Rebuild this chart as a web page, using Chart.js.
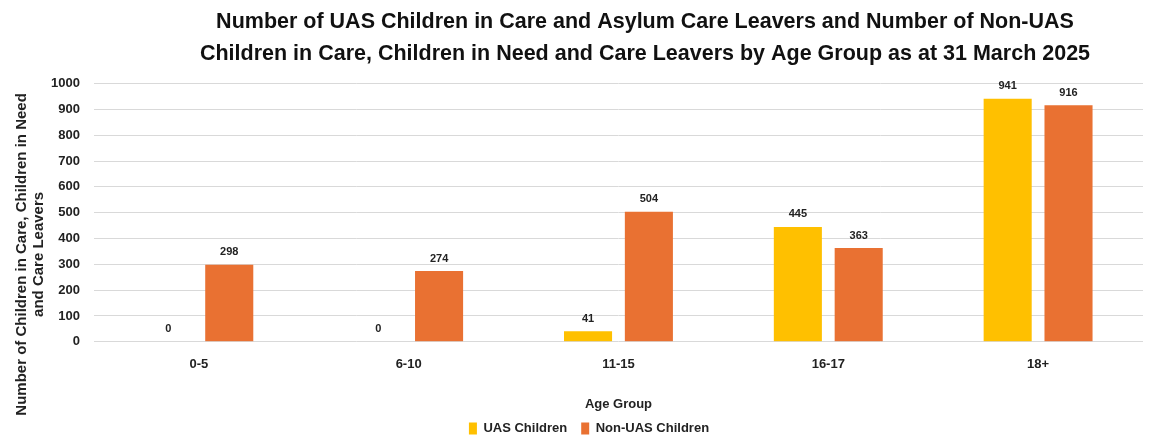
<!DOCTYPE html>
<html>
<head>
<meta charset="utf-8">
<script src="https://cdn.jsdelivr.net/npm/chart.js@4/dist/chart.umd.min.js"></script>
<style>
  html, body { margin: 0; padding: 0; background: #fff; }
  #wrap { width: 1161px; height: 436px; position: relative; }
</style>
</head>
<body>
<div id="wrap"><canvas id="chart"></canvas></div>
<script>
// Chart data
const ageGroups = ['0-5', '6-10', '11-15', '16-17', '18+']
const uasChildren = [0, 0, 41, 445, 941]
const nonUasChildren = [298, 274, 504, 363, 916]
const yTicks = [0, 100, 200, 300, 400, 500, 600, 700, 800, 900, 1000]

const FONT = '"Liberation Sans", Arial, sans-serif'
// trailing spaces push the rotated axis title down a bit, like the original
const yTitlePad = ' '.repeat(20)

// Draws the value above each bar
const barLabels = {
  id: 'barLabels',
  afterDatasetsDraw(chart) {
    const ctx = chart.ctx
    ctx.save()
    ctx.font = 'bold 11px ' + FONT
    ctx.fillStyle = '#222'
    ctx.textAlign = 'center'
    ctx.textBaseline = 'bottom'
    chart.data.datasets.forEach((dataset, i) => {
      chart.getDatasetMeta(i).data.forEach((bar, j) => {
        ctx.fillText(dataset.data[j], bar.x, bar.y - 7)
      })
    })
    ctx.restore()
  }
}

// Shift the title and legend a bit to the right, like the original
const blockShift = {
  id: 'blockShift',
  afterLayout(chart) {
    chart.titleBlock.left += 140
    chart.legend.left += 28
  }
}

new Chart(document.getElementById('chart'), {
  type: 'bar',
  data: {
    labels: ageGroups,
    datasets: [
      { label: 'UAS Children', data: uasChildren, backgroundColor: '#FFC000',
        categoryPercentage: 0.58, barPercentage: 0.79 },
      { label: 'Non-UAS Children', data: nonUasChildren, backgroundColor: '#E97132',
        categoryPercentage: 0.58, barPercentage: 0.79 },
    ]
  },
  options: {
    responsive: true,
    maintainAspectRatio: false,
    animation: false,
    layout: { padding: { left: 7, right: 18, top: 0, bottom: -9 } },
    plugins: {
      title: {
        display: true,
        text: ['Number of UAS Children in Care and Asylum Care Leavers and Number of Non-UAS',
               'Children in Care, Children in Need and Care Leavers by Age Group as at 31 March 2025'],
        color: '#111',
        font: { family: FONT, size: 21.5, weight: 'bold', lineHeight: 1.48 },
        padding: { top: 6, bottom: 14 }
      },
      legend: {
        position: 'bottom',
        labels: {
          color: '#222',
          boxWidth: 8,
          boxHeight: 12,
          padding: 14,
          font: { family: FONT, size: 13, weight: 'bold' }
        }
      },
      tooltip: { enabled: false }
    },
    scales: {
      x: {
        grid: { display: false, drawTicks: false },
        border: { display: false },
        ticks: {
          color: '#222',
          padding: 15,
          font: { family: FONT, size: 13, weight: 'bold' }
        },
        title: {
          display: true,
          text: 'Age Group',
          color: '#222',
          font: { family: FONT, size: 13, weight: 'bold' },
          padding: { top: 9, bottom: -4 }
        }
      },
      y: {
        min: 0,
        max: 1000,
        afterBuildTicks: (axis) => { axis.ticks = yTicks.map(v => ({ value: v })) },
        grid: { color: '#d9d9d9', drawTicks: false, lineWidth: 1 },
        border: { display: false },
        ticks: {
          color: '#222',
          padding: 14,
          callback: (v) => String(v),
          font: { family: FONT, size: 13, weight: 'bold' }
        },
        title: {
          display: true,
          text: ['Number of Children in Care, Children in Need' + yTitlePad, 'and Care Leavers' + yTitlePad],
          color: '#222',
          font: { family: FONT, size: 15, weight: 'bold', lineHeight: 1.1 },
          padding: { top: 7, bottom: -10 }
        }
      }
    }
  },
  plugins: [barLabels, blockShift]
})
</script>
</body>
</html>
